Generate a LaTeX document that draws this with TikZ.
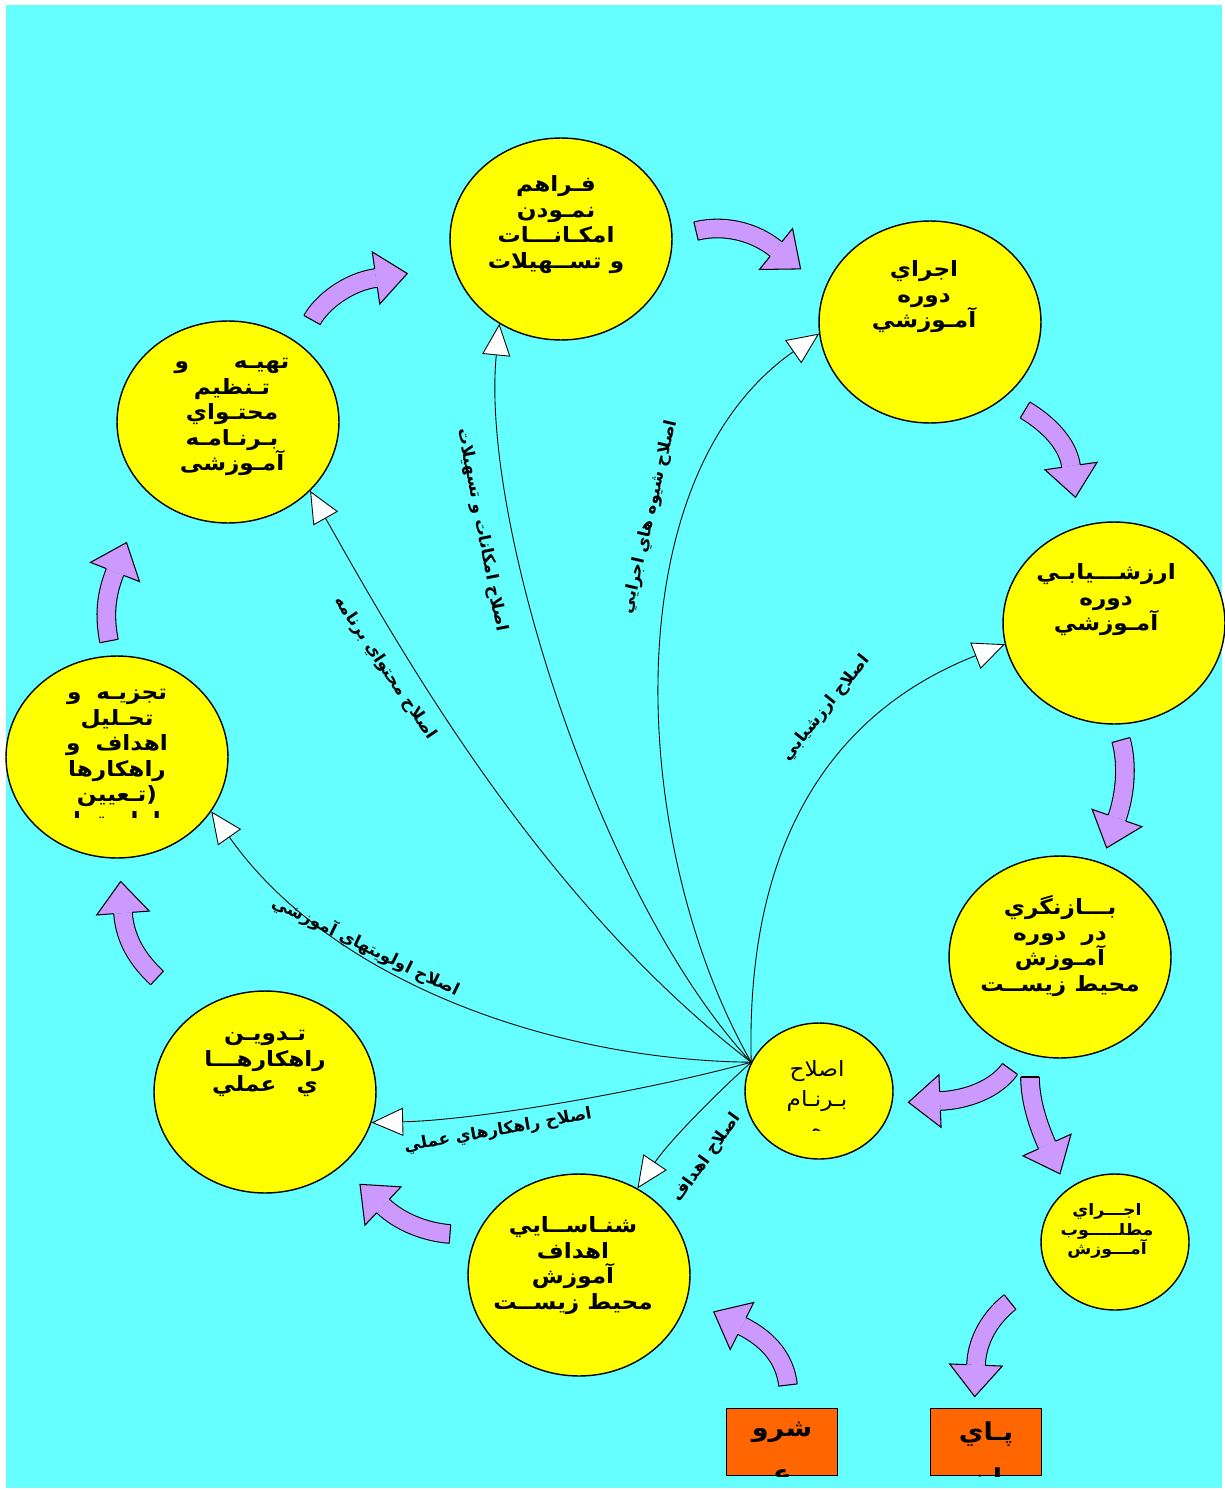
\documentclass[tikz,border=0pt]{standalone}
\usepackage{fontspec}
\usetikzlibrary{shapes.geometric, arrows.meta, positioning, calc}
\TeXXeTstate=1
\newfontfamily\arabicfont[Script=Arabic]{DejaVu Sans}
\newfontfamily\stagefont[Script=Arabic, FakeStretch=1.1]{DejaVu Sans}
\newcommand{\rl}[1]{\beginR #1\endR}
\definecolor{bgcyan}{HTML}{66FFFF}
\definecolor{stageyellow}{HTML}{FFFF00}
\definecolor{arrowlilac}{HTML}{CC99FF}
\definecolor{boxorange}{HTML}{FF6600}

\tikzset{
  stagenode/.style={ellipse, draw, line width=0.8pt, fill=stageyellow,
    minimum width=4.44cm, minimum height=4.04cm, inner sep=0pt},
  smallstage/.style={stagenode, minimum width=2.96cm, minimum height=2.72cm},
  stagetext/.style={anchor=north, align=center, inner sep=0pt,
    font=\stagefont\bfseries\fontsize{12}{14.5}\selectfont},
  endbox/.style={rectangle, draw, line width=0.8pt, fill=boxorange,
    minimum width=2.22cm, minimum height=1.34cm, inner sep=0pt},
  fixline/.style={draw, line width=0.5pt,
    -{Triangle[fill=white, length=18pt, width=16pt]}},
  fixlabel/.style={inner sep=0pt, font=\arabicfont\bfseries\fontsize{9.5}{11}\selectfont},
  lilacshaft/.style={double=arrowlilac, double distance=10pt, line width=0.6pt},
}

% curved block arrow: tail, control, control, head base
\newcommand{\lilacarrow}[4]{%
  \draw[lilacshaft] (#1) .. controls (#2) and (#3) .. (#4);
  \draw[line width=0.6pt] ($(#1)!5.3pt!90:(#2)$) -- ($(#1)!5.3pt!-90:(#2)$);
  \fill[arrowlilac] ($(#4)!15pt!90:(#3)$) -- ($(#4)!-18pt!(#3)$) -- ($(#4)!15pt!-90:(#3)$) -- cycle;
  \draw[line width=0.6pt] ($(#4)!5.3pt!90:(#3)$) -- ($(#4)!15pt!90:(#3)$) -- ($(#4)!-18pt!(#3)$)
    -- ($(#4)!15pt!-90:(#3)$) -- ($(#4)!5.3pt!-90:(#3)$);
}

\begin{document}
\begin{tikzpicture}[x=0.02cm, y=-0.02cm]
  \useasboundingbox (0,0) rectangle (1224,1490);
  \fill[bgcyan] (6,5) rectangle (1222,1488);

  % stages
  \node[stagenode] (fara)    at (561,239)  {};
  \node[stagenode] (ejra)    at (930,322)  {};
  \node[stagenode] (tahie)   at (228,422)  {};
  \node[stagenode] (arzesh)  at (1114,623) {};
  \node[stagenode] (tajzie)  at (117,757)  {};
  \node[stagenode] (bazn)    at (1060,957) {};
  \node[stagenode] (tadvin)  at (265,1092) {};
  \node[smallstage] (eslah)  at (819,1091) {};
  \node[stagenode] (shenasa) at (579,1275) {};
  \node[smallstage] (matlub) at (1115,1242) {};
  \node[endbox] (shoru) at (782,1442) {};
  \node[endbox] (paian) at (986,1442) {};

  % texts of the stages
  \node[stagetext] (faraT) at ($(fara.north)+(-5,38)$)
    {\rl{فـراهم}\\\rl{نمـودن}\\\rl{امکـانـــات}\\\rl{و تســهيلات}};
  \node[stagetext] (ejraT) at ($(ejra.north)+(-6,40)$)
    {\rl{اجراي}\\\rl{دوره}\\\rl{آمـوزشي}};
  \node[stagetext] (tahieT) at ($(tahie.north)+(4,38)$)
    {\rl{تهيـه\hspace{0.9cm}و}\\\rl{تـنظيم}\\\rl{محتـواي}\\\rl{بـرنـامـه}\\\rl{آمـوزشی}};
  \node[stagetext] (arzeshT) at ($(arzesh.north)+(-8,42)$)
    {\rl{ارزشـــيابـي}\\\rl{دوره}\\\rl{آمـوزشي}};
  \begin{scope}
    \clip (0,0) rectangle (1224,817);
    \node[stagetext] (tajzieT) at ($(tajzie.north)+(0,34)$)
      {\rl{تجزيـه\hspace{0.3cm}و}\\\rl{تحـليل}\\\rl{اهداف\hspace{0.3cm}و}\\\rl{راهکارها}\\\rl{(تـعيين}\\\rl{اولويتها}};
  \end{scope}
  \node[stagetext] (baznT) at ($(bazn.north)+(0,40)$)
    {\rl{بـــازنگري}\\\rl{در\hspace{0.3cm}دوره}\\\rl{آمـوزش}\\\rl{محيط زيســت}};
  \node[stagetext] (tadvinT) at ($(tadvin.north)+(0,40)$)
    {\rl{تـدويـن}\\\rl{راهکارهـــا}\\\rl{ي\hspace{0.4cm}عملي}};
  \begin{scope}
    \clip (700,1000) rectangle (900,1130);
    \node[stagetext, font=\stagefont\fontsize{12}{17}\selectfont] (eslahT) at ($(eslah.north)+(-2,38)$)
      {\rl{اصلاح}\\\rl{بـرنـام}\\\rl{ه}};
  \end{scope}
  \node[stagetext] (shenasaT) at ($(shenasa.north)+(-6,43)$)
    {\rl{شنـاســايي}\\\rl{اهداف}\\\rl{آموزش}\\\rl{محيط زيســت}};
  \node[stagetext, font=\stagefont\bfseries\fontsize{9}{11}\selectfont] (matlubT) at ($(matlub.north)+(-8,30)$)
    {\rl{اجـــراي}\\\rl{مطلـــــوب}\\\rl{آمـــوزش}};
  \begin{scope}
    \clip (shoru.south west) rectangle (shoru.north east);
    \node[stagetext, font=\stagefont\bfseries\fontsize{14}{26}\selectfont] (shoruT) at ($(shoru.north)+(0,14)$)
      {\rl{شرو}\\\rl{ع}};
  \end{scope}
  \begin{scope}
    \clip (paian.south west) rectangle (paian.north east);
    \node[stagetext, font=\stagefont\bfseries\fontsize{14}{26}\selectfont] (paianT) at ($(paian.north)+(0,14)$)
      {\rl{پـاي}\\\rl{ان}};
  \end{scope}

  % corrections back from eslah
  \coordinate (hub) at (eslah.157);
  \draw[fixline] (hub) .. controls (600,900) and (480,520) .. (fara.234);
  \draw[fixline] (hub) .. controls (630,850) and (610,480) .. (ejra.186);
  \draw[fixline] (hub) .. controls (540,900) and (400,650) .. (tahie.320);
  \draw[fixline] (hub) .. controls (745,820) and (850,705) .. (arzesh.191);
  \draw[fixline] (hub) .. controls (550,1060) and (330,980) .. (tajzie.330);
  \draw[fixline] (hub) .. controls (650,1090) and (480,1120) .. (tadvin.344);
  \draw[fixline] (hub) .. controls (720,1090) and (670,1140) .. (shenasa.56);

  \node[fixlabel, rotate=-79] (lblfara)    at (482,530)  {\rl{اصلاح امکانات و تسهيلات}};
  \node[fixlabel, rotate=77]  (lblejra)    at (650,517)  {\rl{اصلاح شيوه هاي اجرايي}};
  \node[fixlabel, rotate=-56] (lbltahie)   at (385,668)  {\rl{اصلاح محتواي برنامه}};
  \node[fixlabel, rotate=51]  (lblarzesh)  at (826,708)  {\rl{اصلاح ارزشيابي}};
  \node[fixlabel, rotate=-26] (lbltajzie)  at (366,946)  {\rl{اصلاح اولويتهاي آموزشي}};
  \node[fixlabel, rotate=10]  (lbltadvin)  at (498,1131) {\rl{اصلاح راهکارهاي عملي}};
  \node[fixlabel, rotate=54]  (lblshenasa) at (707,1158) {\rl{اصلاح اهداف}};

  % flow of the cycle
  \lilacarrow{312,320}{322,302}{348,282}{376,278}
  \lilacarrow{696,231}{725,224}{755,232}{776,249}
  \lilacarrow{1025,410}{1050,425}{1068,445}{1071,466}
  \lilacarrow{1121,740}{1128,765}{1125,795}{1117,818}
  \lilacarrow{1010,1069}{995,1090}{965,1100}{940,1101}
  \lilacarrow{1030,1077}{1030,1100}{1038,1125}{1047,1145}
  \lilacarrow{1010,1302}{990,1318}{977,1340}{976,1365}
  \lilacarrow{788,1385}{785,1360}{770,1340}{742,1326}
  \lilacarrow{450,1234}{425,1232}{400,1222}{383,1206}
  \lilacarrow{157,978}{138,960}{125,940}{123,913}
  \lilacarrow{109,641}{104,615}{106,595}{115,572}
\end{tikzpicture}
\end{document}
